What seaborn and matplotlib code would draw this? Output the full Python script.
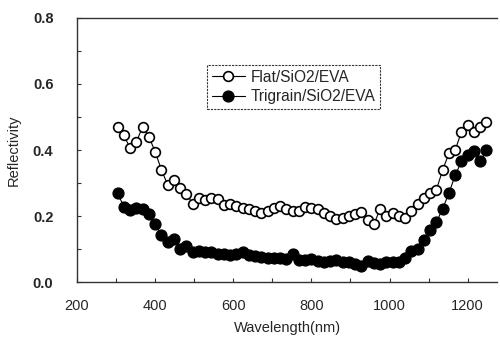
import matplotlib
matplotlib.use("Agg")
import matplotlib.pyplot as plt
import seaborn as sns
import pandas as pd
from matplotlib.ticker import MultipleLocator

wavelength = [304, 320, 336, 352, 368, 384, 400, 416, 432, 448,
              464, 480, 496, 512, 528, 544, 560, 576, 592, 608,
              624, 640, 656, 672, 688, 704, 720, 736, 752, 768,
              784, 800, 816, 832, 848, 864, 880, 896, 912, 928,
              944, 960, 976, 992, 1008, 1024, 1040, 1056, 1072, 1088,
              1104, 1120, 1136, 1152, 1168, 1184, 1200, 1216, 1232, 1248]

flat = [0.47, 0.445, 0.405, 0.425, 0.47, 0.44, 0.395, 0.34, 0.295, 0.31,
        0.285, 0.268, 0.237, 0.255, 0.25, 0.256, 0.253, 0.232, 0.235, 0.23,
        0.225, 0.22, 0.215, 0.21, 0.215, 0.225, 0.23, 0.22, 0.215, 0.215,
        0.228, 0.225, 0.22, 0.21, 0.2, 0.19, 0.195, 0.2, 0.205, 0.212,
        0.188, 0.175, 0.222, 0.2, 0.21, 0.2, 0.195, 0.215, 0.235, 0.255,
        0.27, 0.28, 0.34, 0.39, 0.40, 0.455, 0.475, 0.455, 0.47, 0.484]

trigrain = [0.269, 0.228, 0.218, 0.225, 0.222, 0.205, 0.175, 0.142, 0.12, 0.13,
            0.10, 0.11, 0.092, 0.095, 0.09, 0.09, 0.085, 0.085, 0.082, 0.085,
            0.09, 0.082, 0.078, 0.075, 0.072, 0.074, 0.072, 0.07, 0.085, 0.068,
            0.066, 0.07, 0.065, 0.062, 0.065, 0.068, 0.06, 0.06, 0.055, 0.05,
            0.064, 0.058, 0.054, 0.06, 0.061, 0.06, 0.072, 0.093, 0.10, 0.128,
            0.158, 0.182, 0.222, 0.27, 0.323, 0.366, 0.386, 0.396, 0.366, 0.40]

labels = ["Flat/SiO2/EVA", "Trigrain/SiO2/EVA"]
x_ticks = [200, 400, 600, 800, 1000, 1200]
y_ticks = [0.0, 0.2, 0.4, 0.6, 0.8]

sns.set_style("ticks")
plt.rcParams["font.family"] = ["Liberation Sans", "DejaVu Sans"]

fig = plt.figure(figsize=(5.0, 3.39), dpi=100)
ax = fig.add_axes([0.154, 0.168, 0.84, 0.779])

df1 = pd.DataFrame({"x": wavelength, "y": flat})
df2 = pd.DataFrame({"x": wavelength, "y": trigrain})

sns.lineplot(data=df1, x="x", y="y", ax=ax, color="black", linewidth=0.8,
             marker="o", markersize=7, markerfacecolor="white",
             markeredgecolor="black", markeredgewidth=1.2, label=labels[0])
sns.lineplot(data=df2, x="x", y="y", ax=ax, color="black", linewidth=0.8,
             marker="o", markersize=7.8, markerfacecolor="black",
             markeredgecolor="black", markeredgewidth=1.0, label=labels[1])

ax.set_xlim(200, 1275)
ax.set_ylim(0.0, 0.8)
ax.set_xticks(x_ticks)
ax.set_yticks(y_ticks)
ax.set_xticklabels([str(v) for v in x_ticks], fontsize=10.5)
ax.set_yticklabels(["%.1f" % v for v in y_ticks], fontsize=10.5, fontweight="bold")
ax.xaxis.set_minor_locator(MultipleLocator(100))
ax.yaxis.set_minor_locator(MultipleLocator(0.1))
ax.tick_params(which="both", direction="in", length=3, width=0.8, color="#333333",
               top=False, right=False)
ax.tick_params(axis="x", pad=12)
ax.tick_params(axis="y", pad=17)

for side in ["left", "bottom", "top"]:
    ax.spines[side].set_linestyle((0, (1, 1)))
    ax.spines[side].set_linewidth(1.0)
    ax.spines[side].set_color("#333333")
ax.spines["right"].set_visible(False)

ax.set_xlabel("Wavelength(nm)", fontsize=10.5, labelpad=6)
ax.set_ylabel("Reflectivity", fontsize=10.5, labelpad=9)

leg = ax.legend(loc="upper left", bbox_to_anchor=(0.31, 0.822), frameon=True,
                fancybox=False, fontsize=11.2, handlelength=2.1, borderpad=0.3,
                labelspacing=0.3, handletextpad=0.4, borderaxespad=0)
leg.get_frame().set_edgecolor("black")
leg.get_frame().set_linewidth(0.8)
leg.get_frame().set_linestyle((0, (2, 1)))

fig.savefig("out.png", dpi=100)
